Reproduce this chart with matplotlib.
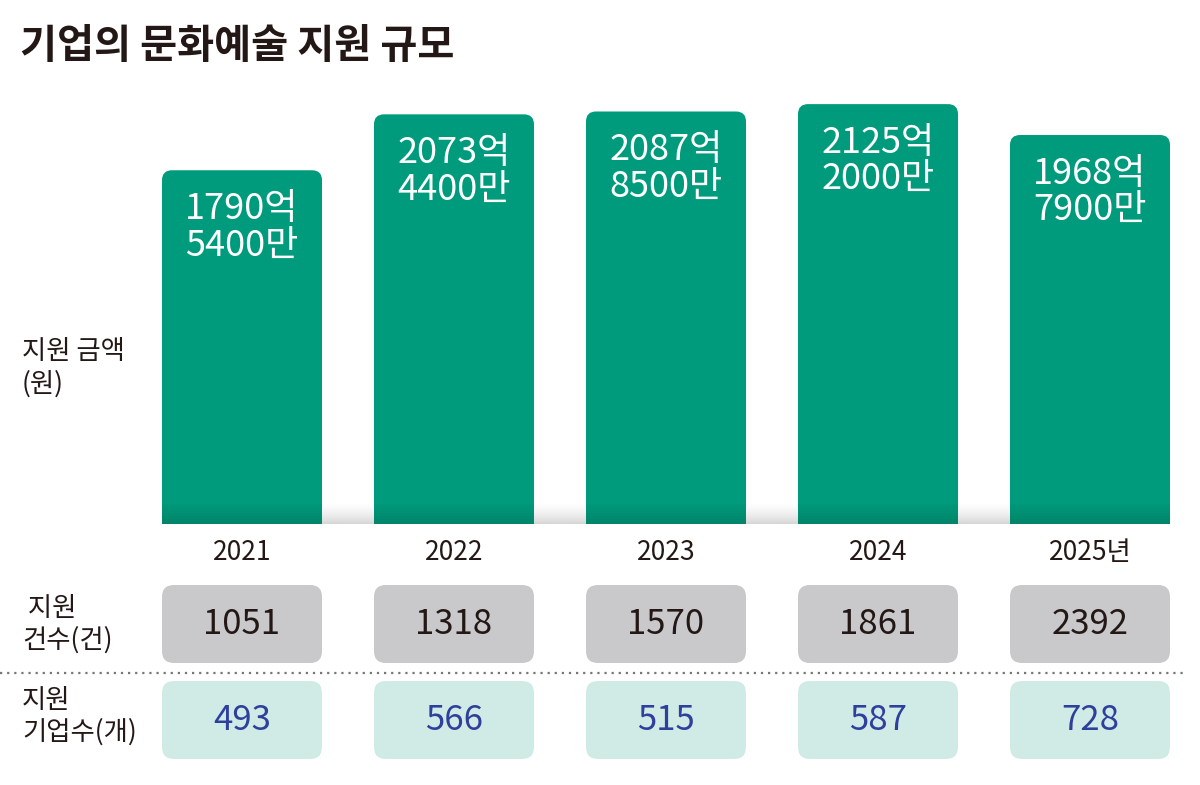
import numpy as np
import matplotlib
matplotlib.use("Agg")
import matplotlib.pyplot as plt
from matplotlib.patches import FancyBboxPatch

plt.rcParams['font.family'] = ['Noto Sans CJK KR', 'DejaVu Sans']

# data
years = ["2021", "2022", "2023", "2024", "2025년"]
amount = [1790.54, 2073.44, 2087.85, 2125.20, 1968.79]   # 억원
amount_labels = ["1790억\n5400만", "2073억\n4400만", "2087억\n8500만",
                 "2125억\n2000만", "1968억\n7900만"]
cases = [1051, 1318, 1570, 1861, 2392]
companies = [493, 566, 515, 587, 728]

GREEN = "#009b7c"
GRAY_BOX = "#c9c9cb"
TEAL_BOX = "#d0ebe6"
BLUE = "#2f3f9c"
INK = "#231815"

W, H = 1200, 785
fig = plt.figure(figsize=(W / 100, H / 100), dpi=100)

# bar axes: index 0..4, centres 212px apart, baseline at y=524px
x_px0, x_px1 = 136, 1196
y_bot, y_top = 524, 84
ax = fig.add_axes([x_px0 / W, 1 - y_bot / H, (x_px1 - x_px0) / W, (y_bot - y_top) / H])
px_per_x = (x_px1 - x_px0) / 5.0
ymax = 2227
ax.set_xlim(-0.5, 4.5)
ax.set_ylim(0, ymax)
ax.axis("off")
px_per_y = (y_bot - y_top) / ymax

bw = 160 / px_per_x
r = 10 / px_per_x
for i, v in enumerate(amount):
    p = FancyBboxPatch((i - bw / 2 + r, -200), bw - 2 * r, v + 200 - r * (px_per_x / px_per_y),
                       boxstyle="round,pad=%f" % r,
                       mutation_aspect=px_per_x / px_per_y,
                       fc=GREEN, ec="none", zorder=3, clip_on=True)
    ax.add_patch(p)
    ax.annotate(amount_labels[i], (i, v), xytext=(0, -15), textcoords="offset points",
                ha="center", va="top", color="white", fontsize=26,
                linespacing=1.05, zorder=5)

# darker fade at bar bottoms (transparent at top, darker at baseline)
shade_h = 22 / px_per_y
grad = np.linspace(0, 1, 50).reshape(-1, 1)
dark = np.zeros((50, 1, 4))
dark[..., 3] = grad * 0.15
for i in range(len(amount)):
    ax.imshow(dark, extent=(i - bw / 2, i + bw / 2, 0, shade_h), aspect="auto",
              origin="upper", zorder=4)

# light grey shadow band under the bars
gray = np.ones((50, 1, 4))
gray[..., :3] = 0.84
gray[..., 3] = grad ** 1.5
ax.imshow(gray, extent=(-bw / 2, 4 + bw / 2, 0, shade_h), aspect="auto",
          origin="upper", zorder=1)

# lower table area in pixel units
tb = fig.add_axes([x_px0 / W, 0, (x_px1 - x_px0) / W, (H - y_bot) / H])
tb.set_xlim(-0.5, 4.5)
tb.set_ylim(H, y_bot)
tb.axis("off")

bh = 78
rr = 12 / px_per_x
for i in range(len(years)):
    tb.text(i, 552, years[i], ha="center", va="center", fontsize=19, color=INK)
    for yc, val, fc, col in [(624, cases[i], GRAY_BOX, INK), (720, companies[i], TEAL_BOX, BLUE)]:
        box = FancyBboxPatch((i - bw / 2 + rr, yc - bh / 2 + 12), bw - 2 * rr, bh - 24,
                             boxstyle="round,pad=%f" % rr, mutation_aspect=px_per_x,
                             fc=fc, ec="none")
        tb.add_patch(box)
        tb.text(i, yc, str(val), ha="center", va="center", fontsize=25, color=col)

# dotted separator
fig.add_artist(plt.Line2D([0, 1187 / W], [1 - 673 / H, 1 - 673 / H], transform=fig.transFigure,
                          color="#777777", lw=1.6, linestyle=(0, (1, 2.2))))

# left labels and title
fig.text(22 / W, 1 - 368 / H, "지원 금액\n(원)", ha="left", va="center", fontsize=19,
         color=INK, linespacing=1.25)
fig.text(22 / W, 1 - 624 / H, " 지원\n건수(건)", ha="left", va="center", fontsize=19,
         color=INK, linespacing=1.2)
fig.text(22 / W, 1 - 716 / H, "지원\n기업수(개)", ha="left", va="center", fontsize=19,
         color=INK, linespacing=1.2)
fig.text(20 / W, 1 - 46 / H, "기업의 문화예술 지원 규모", ha="left", va="center",
         fontsize=29, fontweight="bold", color=INK)

fig.savefig("out.png", dpi=100, facecolor="white")
